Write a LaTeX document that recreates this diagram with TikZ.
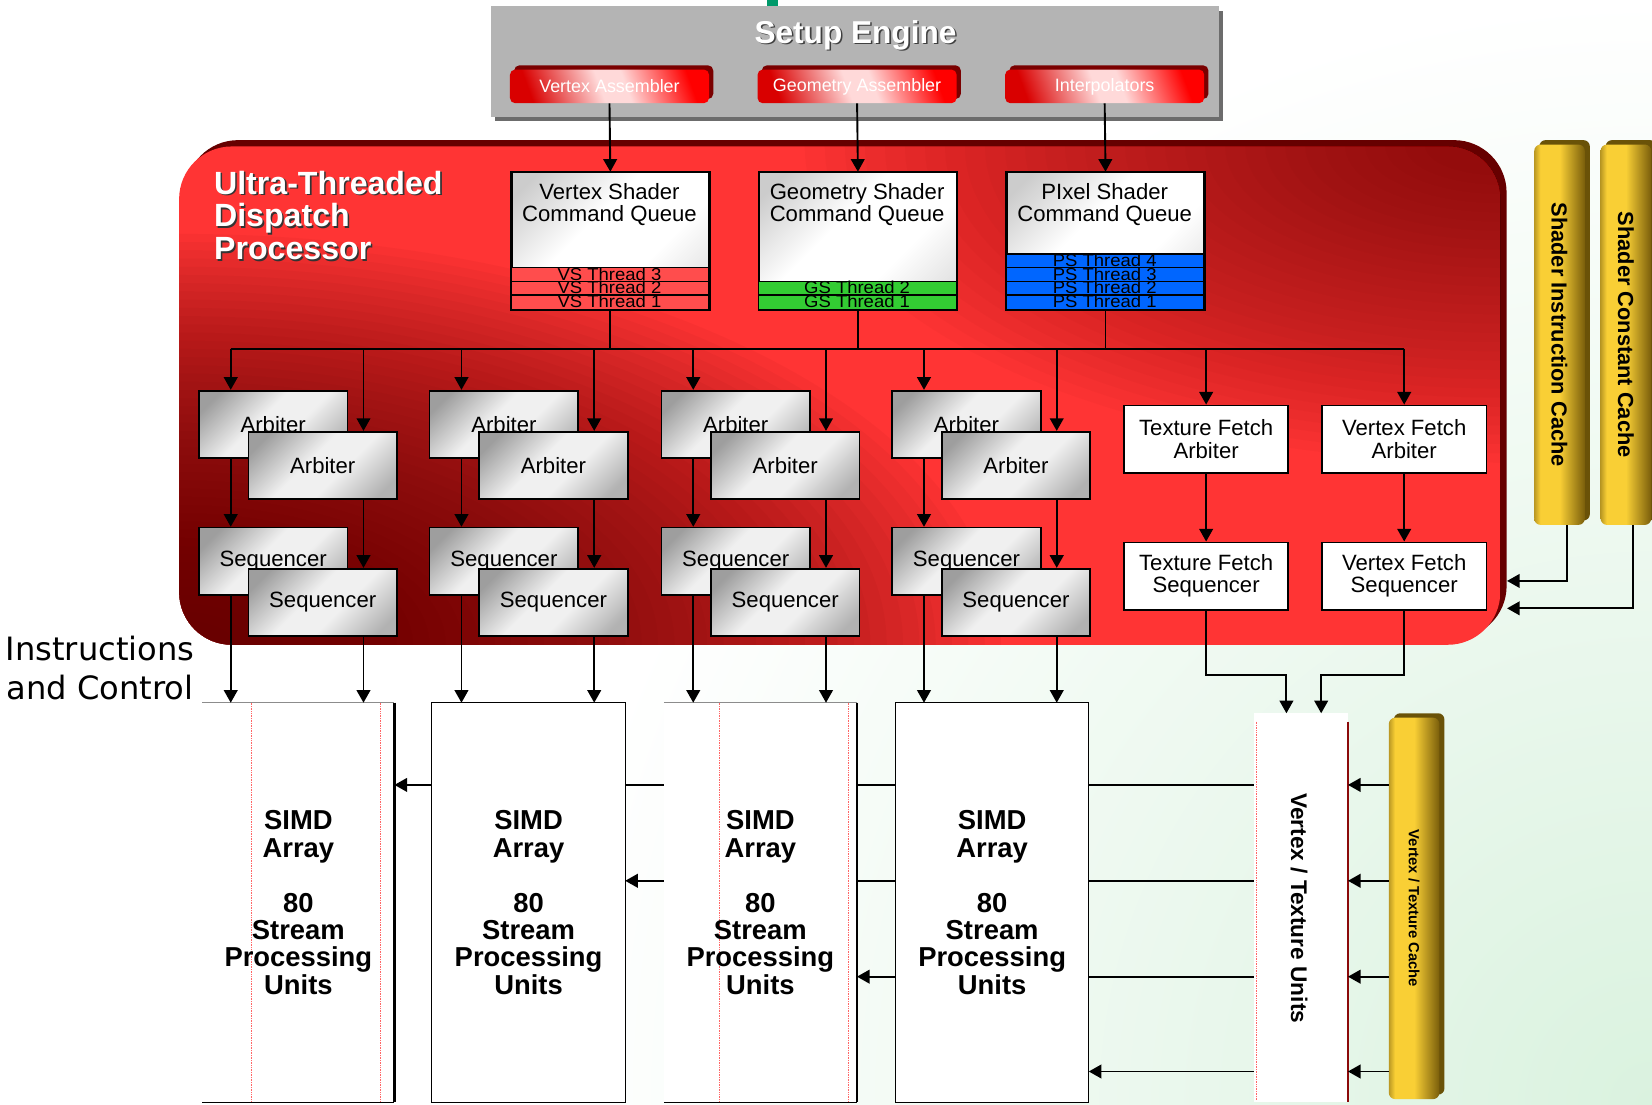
\documentclass[tikz,border=0pt]{standalone}
\usepackage{fontspec}
\setmainfont{Liberation Sans}
\newfontfamily\verdfont{DejaVu Sans}
\usetikzlibrary{arrows.meta,calc}

\definecolor{seGray}{HTML}{B4B4B4}
\definecolor{seShade}{HTML}{6C6C6C}
\definecolor{redMain}{HTML}{FF3434}
\definecolor{redDeep}{HTML}{5A0000}
\definecolor{redEdge}{HTML}{660000}
\definecolor{btnEdge}{HTML}{7A0000}
\definecolor{vsRed}{HTML}{FF4D4D}
\definecolor{gsGreen}{HTML}{33CC33}
\definecolor{psBlue}{HTML}{0066FF}
\definecolor{goldL}{HTML}{F9CF35}
\definecolor{goldM}{HTML}{E9BE2C}
\definecolor{goldD}{HTML}{7A5E0B}
\definecolor{goldEdge}{HTML}{6A5208}
\definecolor{mint}{HTML}{DAF2DF}
\definecolor{topGreen}{HTML}{00996A}
\definecolor{vtuRed}{HTML}{8B0A0A}

\pgfdeclarehorizontalshading{graysh}{100bp}{color(0bp)=(black!38); color(22bp)=(black!38); color(44bp)=(black!6); color(58bp)=(black!6); color(78bp)=(black!30); color(100bp)=(black!30)}
\pgfdeclarehorizontalshading{qsh}{100bp}{color(0bp)=(black!20); color(20bp)=(black!20); color(42bp)=(white); color(62bp)=(white); color(80bp)=(black!12); color(100bp)=(black!12)}
\pgfdeclarehorizontalshading{btnsh}{100bp}{color(0bp)=(red!85!black); color(25bp)=(red!85!black); color(47bp)=(red!15!white); color(55bp)=(red!15!white); color(75bp)=(red); color(100bp)=(red)}
\pgfdeclarehorizontalshading{goldsh}{100bp}{color(0bp)=(goldM!80!black); color(25bp)=(goldM!80!black); color(31bp)=(goldL); color(50bp)=(goldL); color(75bp)=(goldD); color(100bp)=(goldD)}

\begin{document}
\begin{tikzpicture}[x=1pt,y=-1pt,
  arr/.style={line width=1.8pt, -{Triangle[length=12pt,width=13pt]}},
  ln/.style={line width=1.8pt},
  btn/.style={shade, shading=btnsh, shading angle=20, rounded corners=5pt, minimum width=189pt, minimum height=32pt, inner sep=0pt, text=white, font=\fontsize{17}{17}\selectfont},
  qbox/.style={draw, line width=1.6pt, shade, shading=qsh, shading angle=-45, minimum width=187pt, minimum height=130pt, inner sep=0pt, anchor=north west},
  qtxt/.style={anchor=north, inner sep=0pt, align=center, font=\fontsize{21}{21}\selectfont},
  thr/.style={anchor=base, inner sep=0pt, xscale=1.07, font=\fontsize{16.4}{16.4}\selectfont},
  arbbox/.style={draw, line width=1.6pt, shade, shading=graysh, shading angle=-45, minimum width=141pt, minimum height=64pt, inner sep=0pt, anchor=north west, font=\fontsize{21}{21}\selectfont},
  fbox/.style={draw, line width=1.6pt, fill=white, minimum width=156pt, minimum height=64pt, inner sep=0pt, anchor=north west, align=center, font=\fontsize{21}{21}\selectfont},
  goldbar/.style={shade, shading=goldsh, rounded corners=6pt, minimum width=48pt, inner sep=0pt, anchor=north west},
  cachetxt/.style={rotate=-90, inner sep=0pt, font=\bfseries\fontsize{20.7}{20.7}\selectfont},
  simdbox/.style={minimum width=#1, minimum height=379pt, inner sep=0pt, anchor=north west},
  simdtxt/.style={align=center, inner sep=0pt, font=\bfseries\fontsize{26}{26}\selectfont},
  ttl/.style={anchor=north west, align=left, inner sep=0pt, font=\bfseries\fontsize{30.5}{31}\selectfont}
]
\useasboundingbox (0,0) rectangle (1568,1048);
\fill[white] (0,0) rectangle (1568,1048);
\begin{scope}
  \clip (0,0) rectangle (1568,1048);
  \shade[inner color=mint, outer color=white] (1568,1048) circle (1050);
\end{scope}

% top green mark
\fill[topGreen] (728,0) rectangle (738,6);

% Setup engine
\fill[seShade] (470,10) rectangle (1161,115);
\fill[seGray] (466,6) rectangle (1157,111);
\node[font=\bfseries\fontsize{30}{30}\selectfont, text=black!75] (seShadowTxt) at (813.5,35) {Setup Engine};
\node[font=\bfseries\fontsize{30}{30}\selectfont, text=white] (seTitle) at (812,33.5) {Setup Engine};

\foreach \n/\cx/\t in {va/578.5/Vertex Assembler, ga/813.5/Geometry Assembler, ia/1048.5/Interpolators}{
  \fill[btnEdge, rounded corners=5pt] (\cx-90.5,62) rectangle (\cx+98.5,94);
  \node[btn] (\n) at (\cx,82) {\t};
}

% Ultra-threaded dispatch processor
\fill[redEdge, rounded corners=50pt] (176,133) rectangle (1430,606);
\begin{scope}
  \clip[rounded corners=50pt] (170,139) rectangle (1424,612);
  \fill[redMain] (170,139) rectangle (1424,612);
  \foreach \i in {0,...,47}{
    \fill[redDeep, opacity=0.04] (170,612) ellipse [x radius={780-15.5*\i}, y radius={390-7.8*\i}];
  }
  \foreach \i in {0,...,31}{
    \fill[redDeep, opacity=0.027] (1424,139) ellipse [x radius={660-19*\i}, y radius={300-8.8*\i}];
  }
\end{scope}
\node[inner sep=0pt, minimum width=1260pt, minimum height=479pt, anchor=north west] (utdp) at (170,133) {};
\node[ttl, text=black!80] (utShadow) at (204.5,163.5) {Ultra-Threaded\\Dispatch\\Processor};
\node[ttl, text=white] (utTitle) at (203,162) {Ultra-Threaded\\Dispatch\\Processor};

% Command queues
\node[qbox] (vsq) at (485,163) {};
\node[qbox] (gsq) at (720,163) {};
\node[qbox] (psq) at (955,163) {};
\node[qtxt] (vsqt) at (578.5,174) {Vertex Shader\\Command Queue};
\node[qtxt] (gsqt) at (813.5,174) {Geometry Shader\\Command Queue};
\node[qtxt] (psqt) at (1048.5,174) {PIxel Shader\\Command Queue};

\fill[vsRed] (485,254) rectangle (672,293);
\node[thr] (vs3) at (578.5,266) {VS Thread 3};
\node[thr] (vs2) at (578.5,279) {VS Thread 2};
\node[thr] (vs1) at (578.5,292) {VS Thread 1};
\draw[line width=1.3pt] (485,254) -- (672,254) (485,267) -- (672,267) (485,280) -- (672,280);
\draw[line width=1.6pt] (vsq.north west) rectangle (vsq.south east);

\fill[gsGreen] (720,267) rectangle (907,293);
\node[thr] (gs2) at (813.5,279) {GS Thread 2};
\node[thr] (gs1) at (813.5,292) {GS Thread 1};
\draw[line width=1.3pt] (720,267) -- (907,267) (720,280) -- (907,280);
\draw[line width=1.6pt] (gsq.north west) rectangle (gsq.south east);

\fill[psBlue] (955,241) rectangle (1142,293);
\node[thr] (ps4) at (1048.5,253) {PS Thread 4};
\node[thr] (ps3) at (1048.5,266) {PS Thread 3};
\node[thr] (ps2) at (1048.5,279) {PS Thread 2};
\node[thr] (ps1) at (1048.5,292) {PS Thread 1};
\draw[line width=1.3pt] (955,241) -- (1142,241) (955,254) -- (1142,254) (955,267) -- (1142,267) (955,280) -- (1142,280);
\draw[line width=1.6pt] (psq.north west) rectangle (psq.south east);

\draw[arr] (va.south) -- (vsq.north);
\draw[arr] (ga.south) -- (gsq.north);
\draw[arr] (ia.south) -- (psq.north);

% Arbiters and sequencers
\foreach \g/\gx in {1/188,2/407,3/627,4/846}{
  \node[arbbox] (bA\g) at (\gx,370) {Arbiter};
  \node[arbbox] (fA\g) at (\gx+47,409) {Arbiter};
  \node[arbbox] (bS\g) at (\gx,500) {Sequencer};
  \node[arbbox] (fS\g) at (\gx+47,539) {Sequencer};
  \coordinate (ca\g) at ($(bA\g.north west)+(31,0)$);
  \coordinate (cb\g) at ($(fA\g.north west)+(110,0)$);
}
\node[fbox] (tfa) at (1066,384) {Texture Fetch\\Arbiter};
\node[fbox] (vfa) at (1254,384) {Vertex Fetch\\Arbiter};
\node[fbox] (tfs) at (1066,514) {Texture Fetch\\Sequencer};
\node[fbox] (vfs) at (1254,514) {Vertex Fetch\\Sequencer};

% Shader caches
\fill[goldEdge, rounded corners=6pt] (1461,133) rectangle (1509,494);
\node[goldbar, minimum height=361pt] (sic) at (1456,137) {};
\node[cachetxt] (sict) at (sic.center) {Shader Instruction Cache};
\fill[goldEdge, rounded corners=6pt] (1524,133) rectangle (1572,494);
\node[goldbar, minimum height=361pt] (scc) at (1519,137) {};
\node[cachetxt] (scct) at (scc.center) {Shader Constant Cache};

% SIMD arrays (nodes first, for reference)
\node[simdbox=182pt] (simd1) at (192,667) {};
\node[simdbox=183pt] (simd2) at (410,667) {};
\node[simdbox=183pt] (simd3) at (630,667) {};
\node[simdbox=183pt] (simd4) at (850,667) {};

% Vertex / texture units
\node[inner sep=0pt, minimum width=89pt, minimum height=369pt, anchor=north west, fill=white] (vtu) at (1190,677) {};
\draw[red!60, densely dotted, line width=0.6pt] (1192,685) -- (1192,1044);
\draw[vtuRed, line width=1.5pt] ($(vtu.north east)+(0,8)$) -- (vtu.south east);
\node[rotate=-90, inner sep=0pt, font=\bfseries\fontsize{21.5}{21.5}\selectfont] (vtut) at (1233,862) {Vertex / Texture Units};

\fill[goldEdge, rounded corners=6pt] (1323,677) rectangle (1371,1039);
\node[goldbar, minimum height=362pt] (vtc) at (1318,681) {};
\node[rotate=-90, inner sep=0pt, font=\bfseries\fontsize{14}{14}\selectfont] (vtct) at (vtc.center) {Vertex / Texture Cache};

\coordinate (r1) at (0,745);
\coordinate (r2) at (0,836);
\coordinate (r3) at (0,927);
\coordinate (r4) at (0,1017);

% horizontal lines from vertex/texture units to SIMD arrays (behind the arrays)
\draw[arr] (vtu.west |- r1) -- (simd1.east |- r1);
\draw[arr] (vtu.west |- r2) -- (simd2.east |- r2);
\draw[arr] (vtu.west |- r3) -- (simd3.east |- r3);
\draw[arr] (vtu.west |- r4) -- (simd4.east |- r4);
\foreach \r in {r1,r2,r3,r4}{
  \draw[arr] (vtc.west |- \r) -- (vtu.east |- \r);
}

% SIMD array faces
\foreach \s in {simd1,simd2,simd3,simd4}{
  \fill[white] (\s.north west) rectangle (\s.south east);
}
\draw[black!45, line width=0.8pt] (simd1.north west) -- (simd1.north east);
\draw[line width=0.9pt] (simd1.south west) -- (simd1.south east);
\draw[line width=2pt] (simd1.north east) -- (simd1.south east);
\draw[red!60, densely dotted, line width=0.6pt] (239,667) -- (239,1046) (361,667) -- (361,1046);
\draw[line width=1pt] (simd2.north west) rectangle (simd2.south east);
\draw[black!45, line width=0.8pt] (simd3.north west) -- (simd3.north east);
\draw[line width=0.9pt] (simd3.south west) -- (simd3.south east);
\draw[line width=2pt] (simd3.north east) -- (simd3.south east);
\draw[red!60, densely dotted, line width=0.6pt] (683,667) -- (683,1046) (805,667) -- (805,1046);
\draw[line width=1pt] (simd4.north west) rectangle (simd4.south east);
\node[simdtxt] (s1t) at (simd1.center) {SIMD\\Array\\[26pt]80\\Stream\\Processing\\Units};
\node[simdtxt] (s2t) at (simd2.center) {SIMD\\Array\\[26pt]80\\Stream\\Processing\\Units};
\node[simdtxt] (s3t) at (simd3.center) {SIMD\\Array\\[26pt]80\\Stream\\Processing\\Units};
\node[simdtxt] (s4t) at (simd4.center) {SIMD\\Array\\[26pt]80\\Stream\\Processing\\Units};

% dispatch bus
\coordinate (bus) at (0,331);
\draw[ln] (vsq.south) -- (vsq.south |- bus);
\draw[ln] (gsq.south) -- (gsq.south |- bus);
\draw[ln] (psq.south) -- (psq.south |- bus);
\draw[ln] (ca1 |- bus) -- (vfa.north |- bus);
\foreach \g in {1,2,3,4}{
  \draw[arr] (ca\g |- bus) -- (ca\g |- bA\g.north);
  \draw[arr] (cb\g |- bus) -- (cb\g |- fA\g.north);
  \draw[arr] (ca\g |- bA\g.south) -- (ca\g |- bS\g.north);
  \draw[arr] (cb\g |- fA\g.south) -- (cb\g |- fS\g.north);
  \draw[arr] (ca\g |- bS\g.south) -- (ca\g |- simd\g.north);
  \draw[arr] (cb\g |- fS\g.south) -- (cb\g |- simd\g.north);
}
\draw[arr] (tfa.north |- bus) -- (tfa.north);
\draw[arr] (vfa.north |- bus) -- (vfa.north);
\draw[arr] (tfa.south) -- (tfs.north);
\draw[arr] (vfa.south) -- (vfs.north);

\coordinate (tfk) at (1221,641);
\coordinate (vfk) at (1254,641);
\draw[arr] (tfs.south) |- (tfk) -- (tfk |- vtu.north);
\draw[arr] (vfs.south) |- (vfk) -- (vfk |- vtu.north);

% cache connections into dispatch processor
\coordinate (sicOut) at ($(sic.south)+(7,0)$);
\coordinate (sicK) at ($(sicOut)+(0,53)$);
\draw[arr] (sicOut) -- (sicK) -- (sicK -| utdp.east);
\coordinate (sccOut) at ($(scc.south)+(7,0)$);
\coordinate (sccK) at ($(sccOut)+(0,79)$);
\draw[arr] (sccOut) -- (sccK) -- (sccK -| utdp.east);

% side label
\node[align=center, inner sep=0pt, font=\verdfont\fontsize{30.5}{37}\selectfont] (ictl) at (95,634) {Instructions\\and Control};
\end{tikzpicture}
\end{document}
